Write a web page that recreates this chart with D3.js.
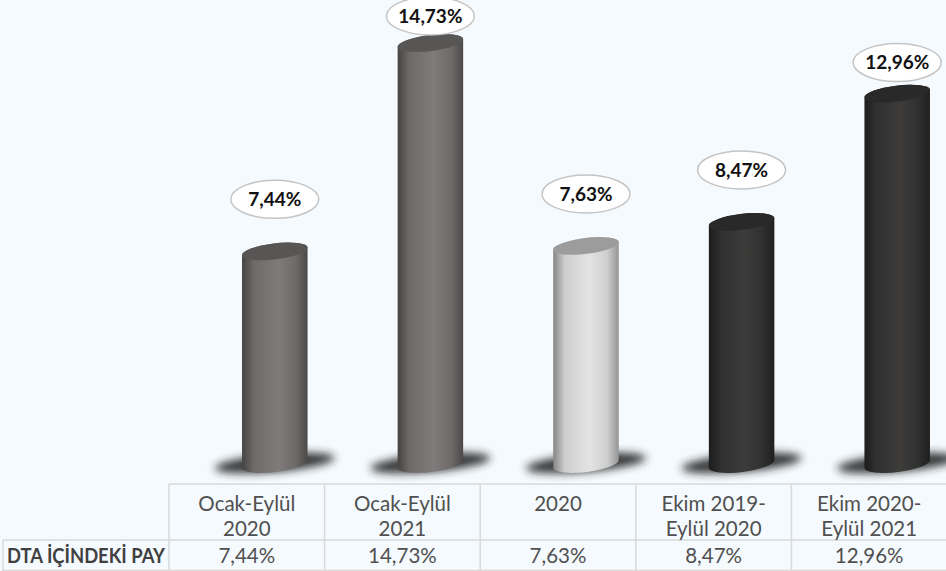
<!DOCTYPE html>
<html><head><meta charset="utf-8">
<script src="https://cdn.jsdelivr.net/npm/d3@7"></script>
<style>
html,body{margin:0;padding:0;background:#f5fafe;}
svg{display:block;}
</style></head>
<body>
<script>
// ---- data ----
const categories = ["Ocak-Eylül 2020", "Ocak-Eylül 2021", "2020", "Ekim 2019-Eylül 2020", "Ekim 2020-Eylül 2021"];
const headerLines = [["Ocak-Eylül", "2020"], ["Ocak-Eylül", "2021"], ["2020"], ["Ekim 2019-", "Eylül 2020"], ["Ekim 2020-", "Eylül 2021"]];
const values = [7.44, 14.73, 7.63, 8.47, 12.96];
const rowLabel = "DTA İÇİNDEKİ PAY";

// ---- styles ----
const W = 946, H = 571;
const palettes = [
  {edgeL:"#464343", mid:"#6d6a69", hi:"#7e7b7a", edgeR:"#4b4848", top:"#585555"},
  {edgeL:"#464343", mid:"#6d6a69", hi:"#7e7b7a", edgeR:"#4b4848", top:"#585555"},
  {edgeL:"#858585", mid:"#cfcfcf", hi:"#e3e3e3", edgeR:"#949494", top:"#9c9c9c"},
  {edgeL:"#1c1c1c", mid:"#303030", hi:"#3d3c3b", edgeR:"#1f1f1f", top:"#292929"},
  {edgeL:"#1c1c1c", mid:"#303030", hi:"#3d3c3b", edgeR:"#1f1f1f", top:"#292929"}
];
const fmt = d3.formatLocale({decimal:",", thousands:".", grouping:[3], currency:["","%"]}).format(".2f");

const svg = d3.select("body").append("svg").attr("width", W).attr("height", H);
svg.append("rect").attr("width", W).attr("height", H).attr("fill", "#f5fafe");
const defs = svg.append("defs");

const f = defs.append("filter").attr("id","shadowBlur").attr("x","-50%").attr("y","-200%").attr("width","200%").attr("height","500%");
f.append("feGaussianBlur").attr("stdDeviation", 4.5);

palettes.forEach((p, i) => {
  const g = defs.append("linearGradient").attr("id", "cyl" + i).attr("x1","0").attr("x2","1").attr("y1","0").attr("y2","0");
  g.append("stop").attr("offset","0%").attr("stop-color", p.edgeL);
  g.append("stop").attr("offset","18%").attr("stop-color", p.mid);
  g.append("stop").attr("offset","55%").attr("stop-color", p.hi);
  g.append("stop").attr("offset","82%").attr("stop-color", p.mid);
  g.append("stop").attr("offset","100%").attr("stop-color", p.edgeR);
});

// ---- scales ----
const x = d3.scaleBand().domain(categories).range([169, 947]).padding(0);
const y = d3.scaleLinear().domain([0, 14.73]).range([464, 43]);
const depthShift = 28;
const rx = 33, ry = 8, tilt = -7;
const rad = tilt * Math.PI / 180;
const cx = c => x(c) + x.bandwidth() / 2 + depthShift;

// ---- shadows ----
svg.append("g").selectAll("ellipse").data(categories).join("ellipse")
  .attr("cx", c => cx(c)).attr("cy", 463)
  .attr("rx", 60).attr("ry", 9)
  .attr("transform", c => `rotate(-5 ${cx(c)} 463)`)
  .attr("fill", "#222222").attr("opacity", 0.9)
  .attr("filter", "url(#shadowBlur)");

// ---- cylinders ----
const bars = svg.append("g").selectAll("g").data(categories).join("g");
const dx = rx * Math.cos(rad), dy = rx * Math.sin(rad);
bars.append("path")
  .attr("d", (c, i) => {
    const X = cx(c), yt = y(values[i]), yb = y(0);
    return `M${X - dx},${yt - dy} L${X - dx},${yb - dy} A${rx},${ry} ${tilt} 0 0 ${X + dx},${yb + dy} L${X + dx},${yt + dy} A${rx},${ry} ${tilt} 0 0 ${X - dx},${yt - dy} Z`;
  })
  .attr("fill", (c, i) => `url(#cyl${i})`);
bars.append("ellipse")
  .attr("cx", c => cx(c)).attr("cy", (c, i) => y(values[i]))
  .attr("rx", rx).attr("ry", ry)
  .attr("transform", (c, i) => `rotate(${tilt} ${cx(c)} ${y(values[i])})`)
  .attr("fill", (c, i) => palettes[i].top);

// ---- data labels ----
const labelY = v => { let ly = y(v) - 52; if (ly < 60) ly = Math.max(y(v) - 31, 16); return ly; };
const lab = svg.append("g").selectAll("g").data(categories).join("g")
  .attr("transform", (c, i) => `translate(${cx(c)},${labelY(values[i])})`);
lab.append("ellipse").attr("rx", 44).attr("ry", 19)
  .attr("fill", "#ffffff").attr("stroke", "#c4c4c4").attr("stroke-width", 1.5);
lab.append("text").attr("text-anchor", "middle").attr("dy", "0.36em")
  .attr("font-family", "Lato, 'Open Sans', sans-serif").attr("font-weight", 700)
  .attr("font-size", 19).attr("fill", "#111111")
  .text((c, i) => fmt(values[i]) + "%");

// ---- data table ----
const grid = svg.append("g").attr("stroke", "#d9d9d9").attr("stroke-width", 1.5);
grid.append("line").attr("x1", 169).attr("x2", W).attr("y1", 484).attr("y2", 484);
grid.append("line").attr("x1", 3).attr("x2", W).attr("y1", 540).attr("y2", 540);
grid.append("line").attr("x1", 3).attr("x2", W).attr("y1", 570.5).attr("y2", 570.5);
grid.append("line").attr("x1", 3).attr("x2", 3).attr("y1", 540).attr("y2", H);
grid.selectAll(".v").data(categories).join("line")
  .attr("x1", c => x(c)).attr("x2", c => x(c)).attr("y1", 484).attr("y2", H);

const tfont = "Lato, 'Open Sans', sans-serif";
const hdr = svg.append("g").selectAll("text").data(categories).join("text")
  .attr("x", c => x(c) + x.bandwidth() / 2).attr("y", 511)
  .attr("text-anchor", "middle").attr("font-family", tfont).attr("font-size", 20.5).attr("fill", "#505050");
hdr.selectAll("tspan").data((c, i) => headerLines[i]).join("tspan")
  .attr("x", function () { return this.parentNode.getAttribute("x"); })
  .attr("dy", (d, j) => j === 0 ? 0 : 24.5)
  .text(d => d);

svg.append("g").selectAll("text").data(categories).join("text")
  .attr("x", c => x(c) + x.bandwidth() / 2).attr("y", 563)
  .attr("text-anchor", "middle").attr("font-family", tfont).attr("font-size", 20.5).attr("fill", "#505050")
  .text((c, i) => fmt(values[i]) + "%");

svg.append("text").attr("x", 7).attr("y", 563)
  .attr("font-family", tfont).attr("font-weight", 700).attr("font-size", 20.5).attr("fill", "#404040")
  .attr("textLength", 158).attr("lengthAdjust", "spacingAndGlyphs")
  .text(rowLabel);
</script>
</body></html>
